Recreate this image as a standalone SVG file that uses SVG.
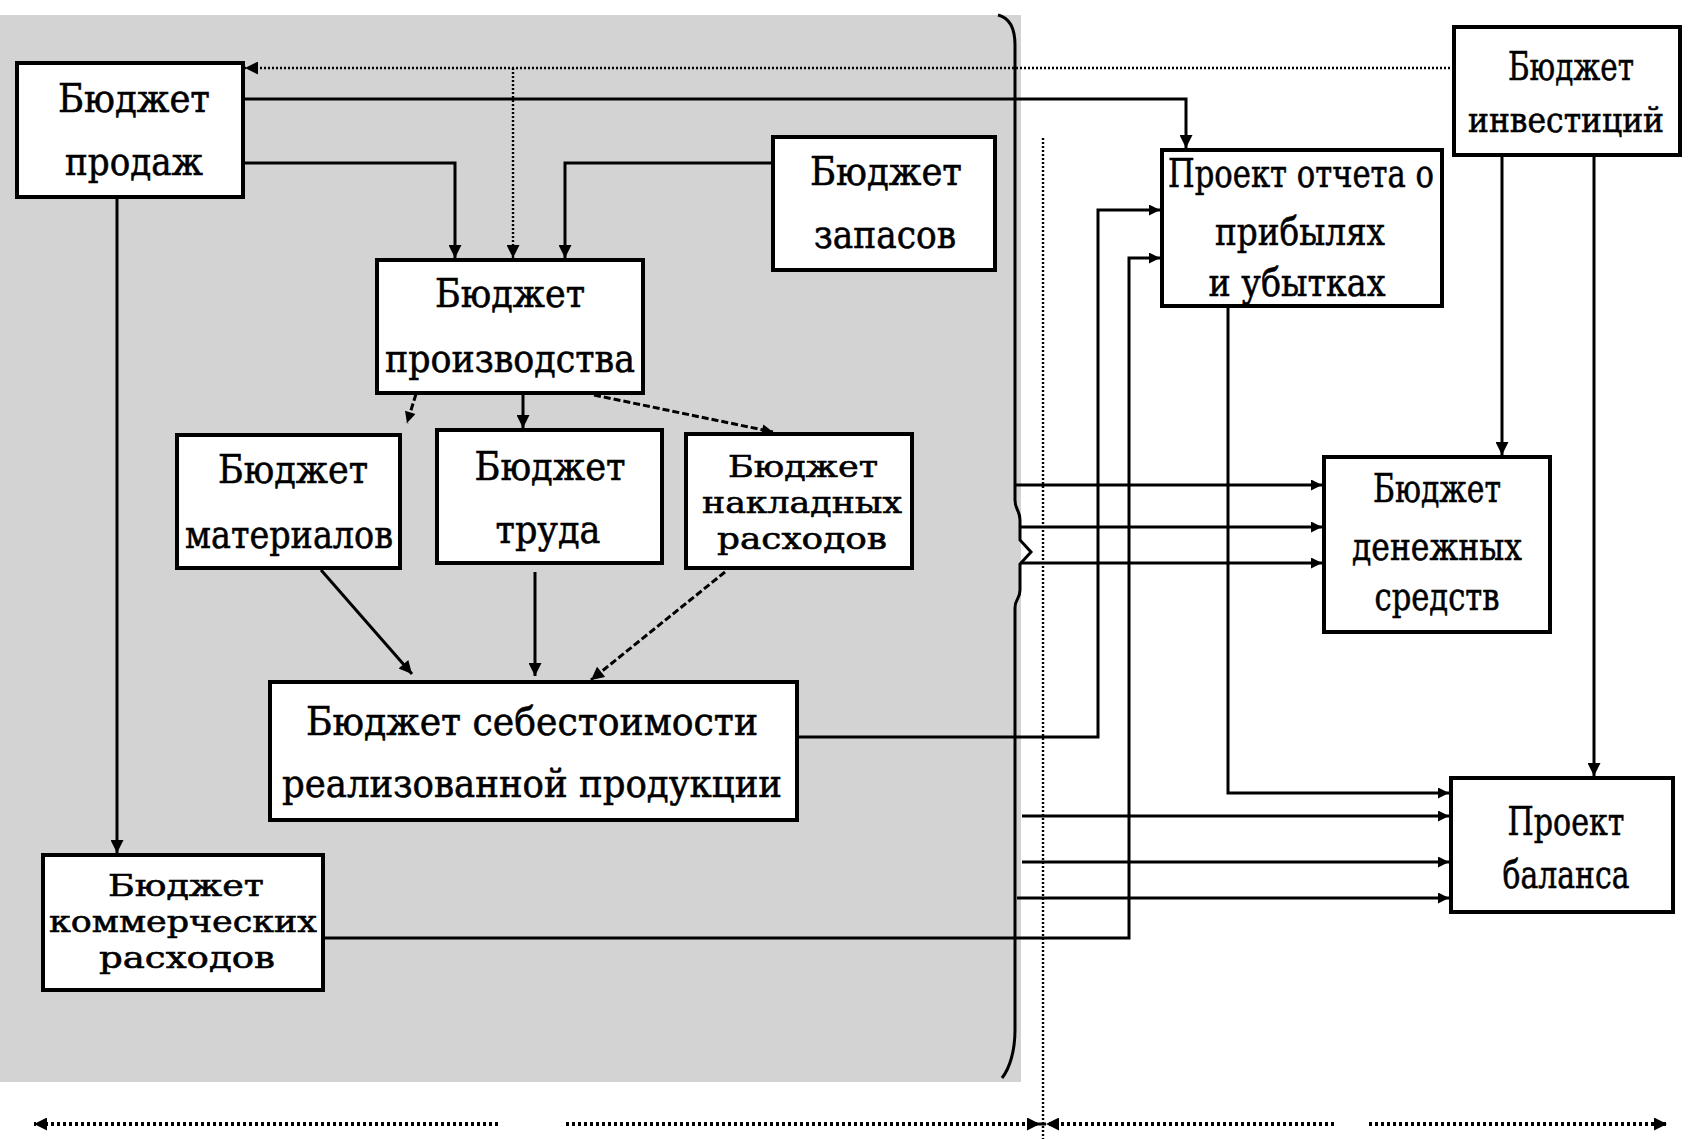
<svg xmlns="http://www.w3.org/2000/svg" width="1690" height="1139" viewBox="0 0 1690 1139">
<style>
.bx{fill:#fff;stroke:#000;stroke-width:4}
.t{font-family:"DejaVu Serif","Liberation Serif",serif;font-size:40px;fill:#000;stroke:#000;stroke-width:0.6;text-anchor:middle}
.sm{font-size:30px}
.ln{fill:none;stroke:#000;stroke-width:3}
.dt{fill:none;stroke:#000;stroke-width:2.4;stroke-dasharray:2 2}
.ds{fill:none;stroke:#000;stroke-width:3;stroke-dasharray:7 3}
.bt{fill:none;stroke:#000;stroke-width:4;stroke-dasharray:3 3}
</style>
<defs>
<marker id="a" viewBox="0 0 10 10" refX="10" refY="5" markerWidth="16" markerHeight="13" markerUnits="userSpaceOnUse" orient="auto">
<path d="M0,0 L10,5 L0,10 z" fill="#000"/>
</marker>
<marker id="s" viewBox="0 0 10 10" refX="10" refY="5" markerWidth="13" markerHeight="11" markerUnits="userSpaceOnUse" orient="auto">
<path d="M0,0 L10,5 L0,10 z" fill="#000"/>
</marker>
</defs>
<rect x="0" y="0" width="1690" height="1139" fill="#fff"/>
<rect id="shade" x="0" y="15" width="1021" height="1067" fill="#d3d3d3"/>
<path id="brace" d="M998 15 C1010 18 1015 28 1015 45 L1015 500 C1015 510 1020 510 1020 520 L1020 540 L1031 552 L1020 564 L1020 590 C1020 600 1015 598 1015 608 L1015 1030 C1015 1050 1010 1068 1002 1078" fill="none" stroke="#000" stroke-width="3"/>
<g id="connectors">
<path class="dt" d="M1454 68 H245" marker-end="url(#a)"/>
<path class="dt" d="M513 68 V258" marker-end="url(#a)"/>
<path class="dt" d="M1043 138 V1139"/>
<path class="ln" d="M243 99 H1186 V148" marker-end="url(#a)"/>
<path class="ln" d="M243 163 H455 V258" marker-end="url(#a)"/>
<path class="ln" d="M773 163 H565 V258" marker-end="url(#a)"/>
<path class="ln" d="M117 197 V853" marker-end="url(#a)"/>
<path class="ds" d="M416 394 L407 423" marker-end="url(#s)"/>
<path class="ln" d="M523 394 V428" marker-end="url(#a)"/>
<path class="ds" d="M594 395 L773 432" marker-end="url(#s)"/>
<path class="ln" d="M321 570 L412 674" marker-end="url(#a)"/>
<path class="ln" d="M535 572 V676" marker-end="url(#a)"/>
<path class="ds" d="M725 572 L591 680" marker-end="url(#a)"/>
<path class="ln" d="M797 737 H1098 V210 H1160" marker-end="url(#s)"/>
<path class="ln" d="M323 938 H1129 V258 H1160" marker-end="url(#s)"/>
<path class="ln" d="M1228 306 V793 H1449" marker-end="url(#s)"/>
<path class="ln" d="M1502 155 V455" marker-end="url(#a)"/>
<path class="ln" d="M1594 155 V776" marker-end="url(#a)"/>
<path class="ln" d="M1015 485 H1322" marker-end="url(#s)"/>
<path class="ln" d="M1021 527 H1322" marker-end="url(#s)"/>
<path class="ln" d="M1021 563 H1322" marker-end="url(#s)"/>
<path class="ln" d="M1022 816 H1449" marker-end="url(#s)"/>
<path class="ln" d="M1022 862 H1449" marker-end="url(#s)"/>
<path class="ln" d="M1017 898 H1449" marker-end="url(#s)"/>
<path class="bt" d="M498 1124 H34" marker-end="url(#a)"/>
<path class="bt" d="M566 1124 H1040" marker-end="url(#a)"/>
<path class="bt" d="M1334 1124 H1046" marker-end="url(#a)"/>
<path class="bt" d="M1369 1124 H1667" marker-end="url(#a)"/>
<path d="M1028 1124 H1046" stroke="#000" stroke-width="3"/>
</g>
<g id="n-sales">
<rect class="bx" x="17" y="63" width="226" height="134"/>
<text class="t"><tspan x="134" y="112" textLength="152" lengthAdjust="spacingAndGlyphs">Бюджет</tspan><tspan x="134" y="175" textLength="138" lengthAdjust="spacingAndGlyphs">продаж</tspan></text>
</g>
<g id="n-production">
<rect class="bx" x="377" y="260" width="266" height="133"/>
<text class="t"><tspan x="510" y="307" textLength="150" lengthAdjust="spacingAndGlyphs">Бюджет</tspan><tspan x="510" y="372" textLength="250" lengthAdjust="spacingAndGlyphs">производства</tspan></text>
</g>
<g id="n-stock">
<rect class="bx" x="773" y="137" width="222" height="133"/>
<text class="t"><tspan x="886" y="185" textLength="152" lengthAdjust="spacingAndGlyphs">Бюджет</tspan><tspan x="885" y="248" textLength="142" lengthAdjust="spacingAndGlyphs">запасов</tspan></text>
</g>
<g id="n-materials">
<rect class="bx" x="177" y="435" width="223" height="133"/>
<text class="t"><tspan x="293" y="483" textLength="150" lengthAdjust="spacingAndGlyphs">Бюджет</tspan><tspan x="289" y="548" textLength="208" lengthAdjust="spacingAndGlyphs">материалов</tspan></text>
</g>
<g id="n-labour">
<rect class="bx" x="437" y="430" width="225" height="133"/>
<text class="t"><tspan x="550" y="480" textLength="151" lengthAdjust="spacingAndGlyphs">Бюджет</tspan><tspan x="548" y="543" textLength="105" lengthAdjust="spacingAndGlyphs">труда</tspan></text>
</g>
<g id="n-overhead">
<rect class="bx" x="686" y="434" width="226" height="134"/>
<text class="t sm"><tspan x="803" y="477" textLength="150" lengthAdjust="spacingAndGlyphs">Бюджет</tspan><tspan x="802" y="513" textLength="200" lengthAdjust="spacingAndGlyphs">накладных</tspan><tspan x="802" y="549" textLength="170" lengthAdjust="spacingAndGlyphs">расходов</tspan></text>
</g>
<g id="n-cost">
<rect class="bx" x="270" y="682" width="527" height="138"/>
<text class="t"><tspan x="532" y="735" textLength="452" lengthAdjust="spacingAndGlyphs">Бюджет себестоимости</tspan><tspan x="532" y="797" textLength="500" lengthAdjust="spacingAndGlyphs">реализованной продукции</tspan></text>
</g>
<g id="n-commercial">
<rect class="bx" x="43" y="855" width="280" height="135"/>
<text class="t sm"><tspan x="186" y="896" textLength="156" lengthAdjust="spacingAndGlyphs">Бюджет</tspan><tspan x="183" y="932" textLength="268" lengthAdjust="spacingAndGlyphs">коммерческих</tspan><tspan x="187" y="968" textLength="176" lengthAdjust="spacingAndGlyphs">расходов</tspan></text>
</g>
<g id="n-pnl">
<rect class="bx" x="1162" y="150" width="280" height="156"/>
<text class="t"><tspan x="1301" y="187" textLength="266" lengthAdjust="spacingAndGlyphs">Проект отчета о</tspan><tspan x="1300" y="245" textLength="170" lengthAdjust="spacingAndGlyphs">прибылях</tspan><tspan x="1297" y="296" textLength="177" lengthAdjust="spacingAndGlyphs">и убытках</tspan></text>
</g>
<g id="n-invest">
<rect class="bx" x="1454" y="27" width="226" height="128"/>
<text class="t"><tspan x="1571" y="80" textLength="126" lengthAdjust="spacingAndGlyphs">Бюджет</tspan><tspan x="1566" y="132" font-size="36" textLength="196" lengthAdjust="spacingAndGlyphs">инвестиций</tspan></text>
</g>
<g id="n-cash">
<rect class="bx" x="1324" y="457" width="226" height="175"/>
<text class="t"><tspan x="1437" y="502" textLength="128" lengthAdjust="spacingAndGlyphs">Бюджет</tspan><tspan x="1437" y="560" textLength="170" lengthAdjust="spacingAndGlyphs">денежных</tspan><tspan x="1437" y="610" textLength="125" lengthAdjust="spacingAndGlyphs">средств</tspan></text>
</g>
<g id="n-balance">
<rect class="bx" x="1451" y="778" width="222" height="134"/>
<text class="t"><tspan x="1566" y="835" textLength="117" lengthAdjust="spacingAndGlyphs">Проект</tspan><tspan x="1566" y="888" textLength="127" lengthAdjust="spacingAndGlyphs">баланса</tspan></text>
</g>
</svg>
